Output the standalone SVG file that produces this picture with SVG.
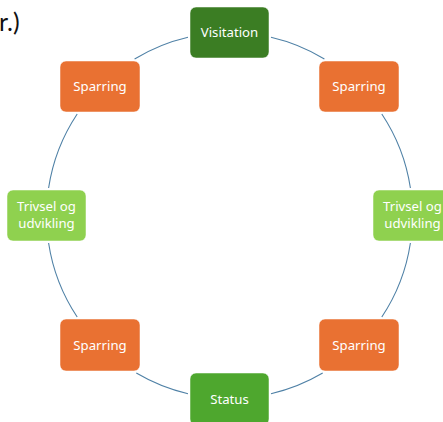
<svg xmlns="http://www.w3.org/2000/svg" width="443" height="422" viewBox="0 0 443 422">
<style>
.n rect{stroke:#ffffff;stroke-opacity:.5;stroke-width:1}
.n text{font-family:"Noto Sans","Liberation Sans",sans-serif;font-size:13.2px;fill:#ffffff;text-anchor:middle}
.c path{fill:none;stroke:#4f81a6;stroke-width:1.1}
.org{fill:#e97132}
</style>
<rect width="443" height="422" fill="#ffffff"/>
<text x="-1" y="31" font-family="Lato,'Liberation Sans',sans-serif" font-size="25" fill="#111">r.)</text>
<g class="c" id="connectors">
<path d="M271,37.3 A183,183 0 0 1 324.4,59"/>
<path d="M381.8,114 A183,183 0 0 1 410.4,188"/>
<path d="M410.4,243 A183,183 0 0 1 381.8,317"/>
<path d="M322.7,373 A183,183 0 0 1 271,393.7"/>
<path d="M188,393.7 A183,183 0 0 1 136.3,373"/>
<path d="M77.2,317 A183,183 0 0 1 48.6,243"/>
<path d="M48.6,188 A183,183 0 0 1 77.2,114"/>
<path d="M134.6,59 A183,183 0 0 1 188,37.3"/>
</g>
<g class="n" id="visitation"><rect x="190" y="7" width="79" height="51" rx="6" fill="#3b7d23"/><text x="229.5" y="37">Visitation</text></g>
<g class="n" id="sparring-tr"><rect x="319" y="61" width="80" height="51" rx="6" class="org"/><text x="359" y="91">Sparring</text></g>
<g class="n" id="trivsel-r"><rect x="373" y="190" width="79" height="51" rx="6" fill="#8fd14f"/><text x="412.5" y="211">Trivsel og</text><text x="412.5" y="227.8">udvikling</text></g>
<g class="n" id="sparring-br"><rect x="319" y="319" width="80" height="52" rx="6" class="org"/><text x="359" y="349.5">Sparring</text></g>
<g class="n" id="status"><rect x="190" y="373" width="79" height="52" rx="6" fill="#4ea72e"/><text x="229.5" y="403.5">Status</text></g>
<g class="n" id="sparring-bl"><rect x="60" y="319" width="80" height="52" rx="6" class="org"/><text x="100" y="349.5">Sparring</text></g>
<g class="n" id="trivsel-l"><rect x="7" y="190" width="79" height="51" rx="6" fill="#8fd14f"/><text x="46.5" y="211">Trivsel og</text><text x="46.5" y="227.8">udvikling</text></g>
<g class="n" id="sparring-tl"><rect x="60" y="61" width="80" height="51" rx="6" class="org"/><text x="100" y="91">Sparring</text></g>
</svg>
